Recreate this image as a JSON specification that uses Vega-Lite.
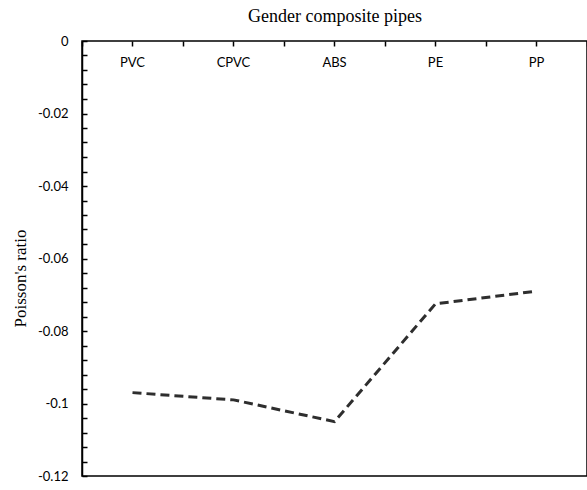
{
  "$schema": "https://vega.github.io/schema/vega-lite/v6.json",
  "width": 505,
  "height": 435,
  "autosize": {"type": "none"},
  "padding": {"left": 82, "top": 41, "right": 0, "bottom": 14},
  "background": "white",
  "config": {"view": {"stroke": "#000", "strokeWidth": 1.5}},
  "data": {"values": [
    {"pipe": "PVC", "ratio": -0.097},
    {"pipe": "CPVC", "ratio": -0.099},
    {"pipe": "ABS", "ratio": -0.105},
    {"pipe": "PE", "ratio": -0.0725},
    {"pipe": "PP", "ratio": -0.069}
  ]},
  "encoding": {
    "y": {
      "field": "ratio", "type": "quantitative",
      "scale": {"domain": [-0.12, 0], "nice": false, "zero": false},
      "axis": {
        "title": "Poisson's ratio",
        "titleFont": "Liberation Serif", "titleFontSize": 17, "titleFontWeight": "normal", "titleColor": "#000",
        "titleY": 237, "titlePadding": 8,
        "values": [0,-0.004,-0.008,-0.012,-0.016,-0.02,-0.024,-0.028,-0.032,-0.036,-0.04,-0.044,-0.048,-0.052,-0.056,-0.06,-0.064,-0.068,-0.072,-0.076,-0.08,-0.084,-0.088,-0.092,-0.096,-0.1,-0.104,-0.108,-0.112,-0.116,-0.12],
        "labelExpr": "abs(round(datum.value*250)) % 5 == 0 ? (datum.value == 0 ? '0' : '-' + format(-datum.value, '~g')) : ''",
        "labelOverlap": false,
        "labelFont": "Lato", "labelFontSize": 13, "labelColor": "#000",
        "labelPadding": 19,
        "tickSize": -5, "tickColor": "#000", "tickWidth": 1.5,
        "domainColor": "#000", "domainWidth": 1.5,
        "grid": false
      }
    }
  },
  "layer": [
    {
      "mark": {"type": "line", "color": "#2e2e2e", "strokeWidth": 3, "strokeDash": [9, 5]},
      "encoding": {
        "x": {
          "field": "pipe", "type": "nominal", "sort": null, "bandPosition": 0.5,
          "scale": {"type": "band", "paddingInner": 0, "paddingOuter": 0},
          "axis": {
            "orient": "top", "title": "Gender composite pipes",
            "titleFont": "Liberation Serif", "titleFontSize": 18, "titleFontWeight": "normal", "titleColor": "#000",
            "titlePadding": 15,
            "labelAngle": 0, "labelFont": "Lato", "labelFontSize": 13, "labelColor": "#000",
            "labelBaseline": "middle", "labelPadding": -21,
            "offset": -5, "ticks": true, "tickSize": 5, "tickColor": "#000", "tickWidth": 1.5,
            "domain": false, "grid": false
          }
        }
      }
    },
    {
      "mark": {"type": "line", "strokeOpacity": 0},
      "encoding": {
        "x": {
          "field": "pipe", "type": "nominal", "sort": null, "bandPosition": 0.5,
          "axis": {
            "orient": "top", "title": null, "labels": false, "offset": -5, "domain": false,
            "ticks": true, "tickBand": "extent", "tickSize": 5, "tickColor": "#000", "tickWidth": 1.5
          }
        }
      }
    }
  ],
  "resolve": {"axis": {"x": "independent"}}
}
